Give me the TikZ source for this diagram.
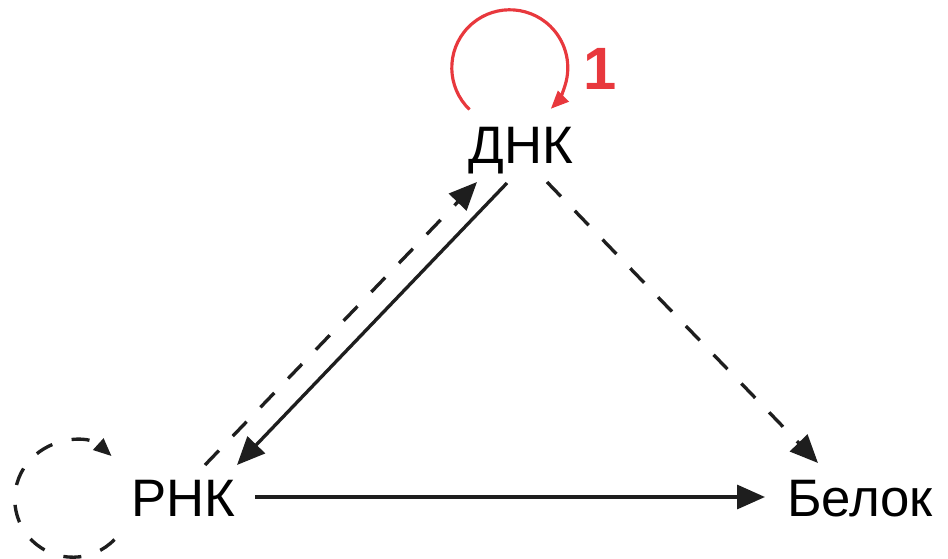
\documentclass[tikz,border=0pt]{standalone}
\usepackage{fontspec}
\setmainfont{Liberation Sans}
\usepackage{tikz}
\usetikzlibrary{arrows.meta}
\definecolor{InkBlack}{RGB}{30,30,30}
\definecolor{LoopRed}{RGB}{232,56,61}

\begin{document}
\begin{tikzpicture}[
  font=\fontsize{30}{36}\selectfont,
  lbl/.style={inner sep=0pt, anchor=base, text=black},
  arr/.style={-{Triangle[length=5.6mm, width=4.8mm]}, line width=1.9pt, draw=InkBlack},
  darr/.style={arr, dash pattern=on 0.4cm off 0.4cm},
  loopr/.style={-{Triangle[length=3.6mm, width=3.0mm]}, line width=1.8pt, draw=LoopRed},
  loopd/.style={-{Triangle[length=3.6mm, width=3.0mm]}, line width=1.9pt, draw=InkBlack, dash pattern=on 0.36cm off 0.4cm}
]
  \useasboundingbox (0,0) rectangle (18.96,11.16);

  \node[lbl] (dna) at (10.42,7.90) {ДНК};
  \node[lbl] (rna) at (3.66,0.84) {РНК};
  \node[lbl] (protein) at (17.20,0.84) {Белок};
  \node[text=LoopRed, font=\fontsize{34}{40}\selectfont\bfseries] (one) at (12.00,9.78) {1};

  \draw[arr] ([xshift=-0.28cm, yshift=-0.40cm]dna.base) -- ([xshift=1.08cm, yshift=1.02cm]rna.base);
  \draw[darr] ([xshift=0.44cm, yshift=1.02cm]rna.base) -- ([xshift=-0.88cm, yshift=-0.38cm]dna.base);
  \draw[darr] ([xshift=0.52cm, yshift=-0.38cm]dna.base) -- ([xshift=-0.84cm, yshift=1.06cm]protein.base);
  \draw[arr] ([xshift=1.44cm, yshift=0.38cm]rna.base) -- ([xshift=-1.90cm, yshift=0.38cm]protein.base);

  \draw[loopr] ([xshift=-1.03cm, yshift=1.07cm]dna.base) arc[start angle=226, end angle=-45, radius=1.16cm];
  \draw[loopd] ([xshift=-1.37cm, yshift=-0.47cm]rna.base) arc[start angle=-44, end angle=-312, radius=1.16cm];
\end{tikzpicture}
\end{document}
